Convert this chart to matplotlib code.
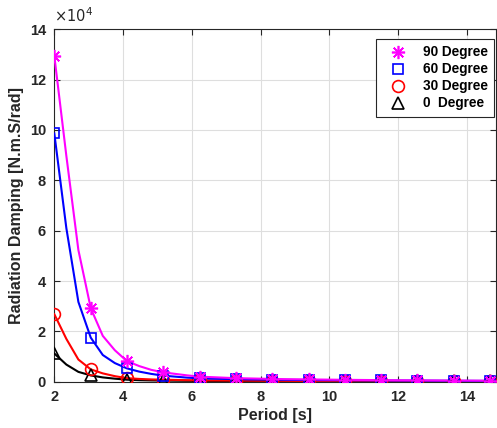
import matplotlib
matplotlib.use("Agg")
import matplotlib.pyplot as plt
from matplotlib.ticker import FuncFormatter

plt.rcParams['font.family'] = ['Liberation Sans', 'DejaVu Sans']

period = [2.00, 2.35, 2.70, 3.06, 3.41, 3.76, 4.11, 4.47, 4.82, 5.17, 5.52, 5.87,
          6.23, 6.58, 6.93, 7.28, 7.64, 7.99, 8.34, 8.69, 9.04, 9.40, 9.75, 10.10,
          10.45, 10.80, 11.16, 11.51, 11.86, 12.21, 12.56, 12.92, 13.27, 13.62,
          13.97, 14.32, 14.68]

deg90 = [129400, 89700, 52300, 29200, 18200, 12500, 8200, 6200, 4700, 3700, 3100, 2500,
         2000, 1800, 1600, 1400, 1300, 1200, 1100, 1000, 950, 900, 850, 800,
         750, 700, 660, 620, 580, 550, 520, 500, 470, 450, 430, 410, 400]
deg60 = [98600, 61000, 31700, 17500, 10600, 7400, 5300, 4000, 3100, 2400, 2000, 1600,
         1350, 1200, 1100, 1000, 900, 850, 800, 750, 700, 650, 620, 590,
         560, 530, 500, 480, 460, 440, 420, 400, 380, 360, 340, 320, 300]
deg30 = [26800, 17000, 8800, 4900, 3300, 2200, 1400, 1100, 900, 800, 700, 600,
         550, 500, 470, 440, 410, 380, 360, 340, 320, 300, 290, 280,
         270, 260, 250, 240, 230, 220, 210, 200, 200, 190, 190, 180, 180]
deg0 = [11200, 6800, 3900, 2500, 1700, 1200, 800, 600, 500, 450, 400, 350,
        320, 300, 280, 260, 240, 220, 210, 200, 190, 180, 170, 160,
        160, 150, 150, 140, 140, 130, 130, 120, 120, 110, 110, 100, 100]

labels = ['90 Degree', '60 Degree', '30 Degree', '0  Degree']
colors = ['#ff00ff', '#0000ff', '#ff0000', '#000000']
markers = [(8, 2, 0), 's', 'o', '^']
msizes = [9.5, 6.8, 8.5, 8.5]
series = [deg90, deg60, deg30, deg0]

fig = plt.figure(figsize=(4.97, 4.28), dpi=100)
ax = fig.add_axes([0.1093, 0.1082, 0.8887, 0.8234])

for y, c in zip(series[::-1], colors[::-1]):
    ax.plot(period, y, color=c, lw=1.5, zorder=3)

for y, c, m, ms, lab in zip(series[::-1], colors[::-1], markers[::-1], msizes[::-1], labels[::-1]):
    ax.plot(period[::3], y[::3], linestyle='none', marker=m, ms=ms, mfc='none',
            mec=c, mew=1.2, label=lab, zorder=4)

ax.set_xlim(2, 14.85)
ax.set_ylim(0, 140000)
ax.set_xticks([2, 4, 6, 8, 10, 12, 14])
ax.set_yticks([0, 20000, 40000, 60000, 80000, 100000, 120000, 140000])
ax.yaxis.set_major_formatter(FuncFormatter(lambda v, p: f"{v/1e4:g}"))

ax.grid(True, color='#dedede', lw=0.8, zorder=0)
ax.set_axisbelow(True)
ax.tick_params(direction='in', top=True, right=True, length=4, width=0.8,
               labelsize=10.5, colors='#262626', pad=6)
for lab in ax.get_xticklabels() + ax.get_yticklabels():
    lab.set_fontweight('bold')
for s in ax.spines.values():
    s.set_color('#262626')
    s.set_linewidth(0.8)

ax.set_xlabel('Period [s]', fontsize=11.5, fontweight='bold', color='#262626', labelpad=3)
ax.set_ylabel('Radiation Damping [N.m.S/rad]', fontsize=11.5, fontweight='bold',
              color='#262626', labelpad=4)
ax.text(0.0, 1.012, r'$\times10^{4}$', transform=ax.transAxes, fontsize=10.5,
        ha='left', va='bottom', color='#262626')

handles, labs = ax.get_legend_handles_labels()
leg = ax.legend(handles[::-1], labs[::-1], loc='upper right', bbox_to_anchor=(0.9955, 0.9716),
                borderaxespad=0, prop={'weight': 'bold', 'size': 9.8}, fancybox=False,
                framealpha=1, edgecolor='#262626', borderpad=0.45, labelspacing=0.22,
                handletextpad=0.7, handlelength=2.3)
leg.get_frame().set_linewidth(0.8)

fig.savefig('out.png', dpi=100)
